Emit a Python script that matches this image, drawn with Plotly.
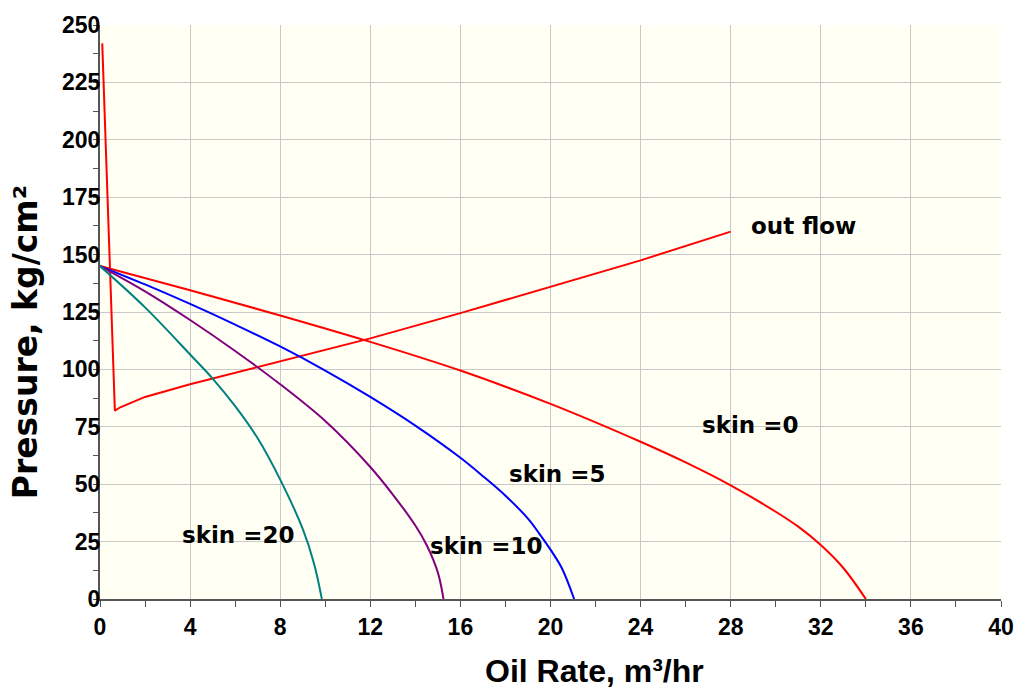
import plotly.graph_objects as go

# ---- data ----
outflow_q = [0.1, 0.66, 0.9, 2, 4, 8, 12, 16, 20, 24, 28]
outflow_p = [242, 82, 83.5, 88, 93.5, 103.5, 113.5, 124.5, 136, 147.5, 160]

skin0_q = [0, 4, 8, 12, 16, 20, 24, 26, 28, 30, 31, 32, 33, 34]
skin0_p = [145, 134.5, 123.5, 112, 99.5, 85, 68.5, 59.5, 49.5, 38, 31.5, 23.5, 13.5, 0]

skin5_q = [0, 2, 4, 6, 8, 10, 12, 14, 16, 17, 18, 19, 19.5, 20, 20.5, 21.05]
skin5_p = [145, 137, 128.5, 119.5, 110, 99.5, 88, 75.5, 61.5, 53.5, 45, 35, 28.5, 21.5, 13.5, 0]

skin10_q = [0, 2, 4, 6, 8, 10, 12, 13, 14, 14.5, 15, 15.25]
skin10_p = [145, 134, 121.5, 108, 93.5, 77.5, 57.5, 45.5, 32, 23.5, 11.5, 0]

skin20_q = [0, 2, 4, 5, 6, 7, 8, 9, 9.5, 9.85]
skin20_p = [145, 127, 106.5, 96, 84, 70, 52, 30.5, 15.5, 0]

x_tickvals = [0, 4, 8, 12, 16, 20, 24, 28, 32, 36, 40]
y_tickvals = [0, 25, 50, 75, 100, 125, 150, 175, 200, 225, 250]

labels = ["out flow", "skin =0", "skin =5", "skin =10", "skin =20"]
label_q = [28.8, 28.9, 20.3, 17.15, 6.13]
label_p = [162.5, 76, 54.6, 23.2, 27.8]
label_anchor = ["left", "center", "center", "center", "center"]

x_title = "Oil Rate, m³/hr"
y_title = "Pressure, kg/cm²"

fig = go.Figure()
fig.add_trace(go.Scatter(x=outflow_q, y=outflow_p, mode="lines",
                         line=dict(color="#FF0000", width=2), name="out flow"))
spl = dict(width=2, shape="spline", smoothing=1.0)
fig.add_trace(go.Scatter(x=skin0_q, y=skin0_p, mode="lines",
                         line=dict(color="#FF0000", **spl), name="skin=0"))
fig.add_trace(go.Scatter(x=skin5_q, y=skin5_p, mode="lines",
                         line=dict(color="#0000FF", **spl), name="skin=5"))
fig.add_trace(go.Scatter(x=skin10_q, y=skin10_p, mode="lines",
                         line=dict(color="#800080", **spl), name="skin=10"))
fig.add_trace(go.Scatter(x=skin20_q, y=skin20_p, mode="lines",
                         line=dict(color="#008080", **spl), name="skin=20"))

for t, q, p, a in zip(labels, label_q, label_p, label_anchor):
    fig.add_annotation(x=q, y=p, text=t, showarrow=False, xanchor=a, yanchor="middle",
                       font=dict(family="DejaVu Sans", size=23, color="#000000", weight="bold"))

fig.add_annotation(xref="paper", yref="paper", x=(598 - 100) / 907, y=-(671.7 - 599.5) / 579,
                   text=x_title, showarrow=False, xanchor="center", yanchor="middle",
                   font=dict(family="Liberation Sans", size=32, color="#000000", weight="bold"))
fig.add_annotation(xref="paper", yref="paper", x=-(100 - 25) / 907, y=(599.5 - 340) / 579,
                   text=y_title, showarrow=False, xanchor="center", yanchor="middle", textangle=-90,
                   font=dict(family="DejaVu Sans", size=33, color="#000000", weight="bold"))

axis_common = dict(
    showgrid=True, gridcolor="#C8C8C8", gridwidth=1,
    showline=True, linecolor="#555555", linewidth=2,
    tickcolor="#555555", tickwidth=1,
    tickfont=dict(family="Liberation Sans", size=23, color="#000000", weight="bold"),
    zeroline=False,
)

fig.update_xaxes(range=[0, 40], tickmode="array", tickvals=x_tickvals,
                 ticktext=["<b>%g</b>" % v for v in x_tickvals],
                 ticks="outside", ticklen=6,
                 minor=dict(dtick=2, tick0=0, ticks="outside", ticklen=6, tickcolor="#555555", showgrid=False),
                 **axis_common)
fig.update_yaxes(range=[0, 250], tickmode="array", tickvals=y_tickvals,
                 ticktext=["<b>%g</b>" % v for v in y_tickvals],
                 ticks="outside", ticklen=0, ticklabelstandoff=-7,
                 minor=dict(dtick=12.5, tick0=0, ticks="outside", ticklen=5, tickcolor="#555555", showgrid=False),
                 **axis_common)

fig.update_layout(
    width=1026, height=690,
    margin=dict(l=100, r=19, t=21, b=90.5),
    paper_bgcolor="#FFFFFF", plot_bgcolor="#FFFFF3",
    showlegend=False,
)

fig.write_html("out.html")
